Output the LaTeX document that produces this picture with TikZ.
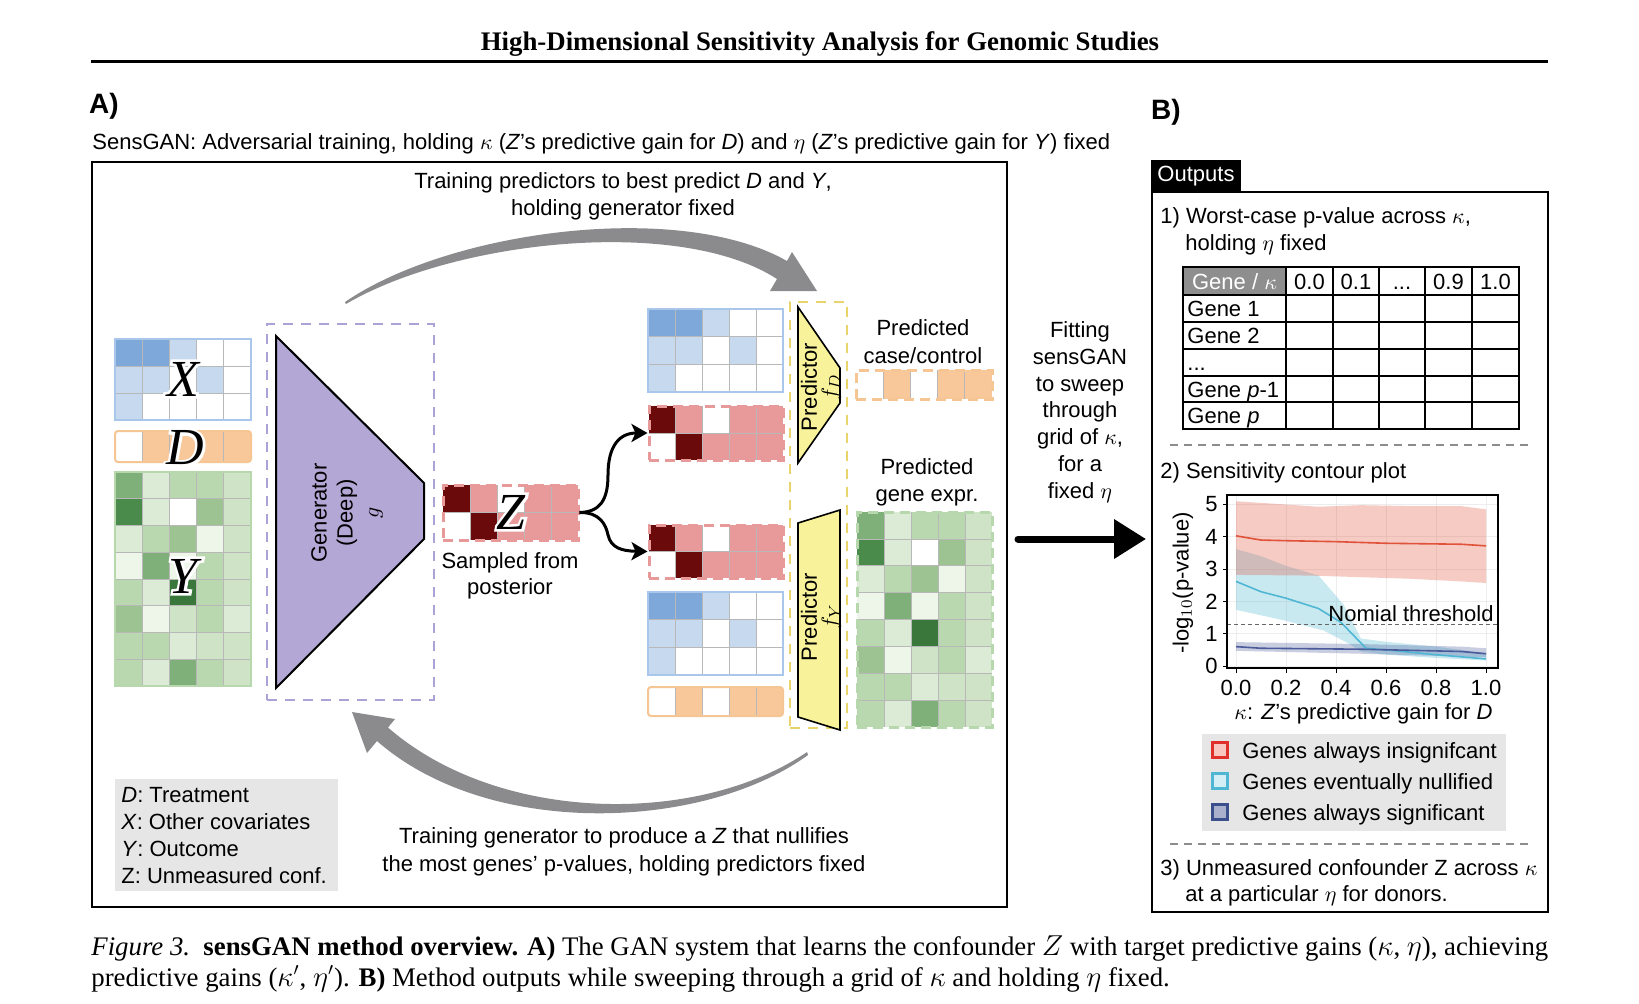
\documentclass[tikz,border=0pt]{standalone}
\usepackage{fontspec}
\setmainfont{Liberation Sans}
\newfontfamily\timesf{Liberation Serif}
\usetikzlibrary{arrows.meta,fit}

\definecolor{bD}{HTML}{7EA7DA}
\definecolor{bL}{HTML}{C6D9EF}
\definecolor{bB}{HTML}{A9C7EA}
\definecolor{oO}{HTML}{F8C89A}
\definecolor{oB}{HTML}{F6C594}
\definecolor{rD}{HTML}{6B0A0A}
\definecolor{rP}{HTML}{E89A9B}
\definecolor{gA}{HTML}{EEF6EA}
\definecolor{gB}{HTML}{DCEBD6}
\definecolor{gC}{HTML}{CFE4C7}
\definecolor{gE}{HTML}{B9D8AF}
\definecolor{gF}{HTML}{9CC391}
\definecolor{gG}{HTML}{7FB07A}
\definecolor{gH}{HTML}{4A8A4A}
\definecolor{gI}{HTML}{3A773A}
\definecolor{gBd}{HTML}{B7D7AC}
\definecolor{lav}{HTML}{B3A7D6}
\definecolor{lavD}{HTML}{ABA3D8}
\definecolor{yel}{HTML}{F8F39A}
\definecolor{yelD}{HTML}{E8D46A}
\definecolor{arrG}{HTML}{8B8B8E}
\definecolor{tabG}{HTML}{8E8E8E}
\definecolor{legG}{HTML}{E6E6E6}
\definecolor{pRed}{HTML}{E0533A}
\definecolor{pCy}{HTML}{4FB7D3}
\definecolor{pNv}{HTML}{4A5A9A}
\definecolor{sqR}{HTML}{E0302A}
\definecolor{sqRf}{HTML}{F8C8C0}
\definecolor{sqC}{HTML}{4FB7D3}
\definecolor{sqCf}{HTML}{D5EEF6}
\definecolor{sqN}{HTML}{3B4F8C}
\definecolor{sqNf}{HTML}{A9B0CE}

% #1 x0, #2 y0, #3 cell w, #4 cell h, #5 rows, #6 colours (5 per row)
\newcommand\heatmap[6]{%
  \foreach \cc [count=\k from 0] in {#6}{%
    \pgfmathtruncatemacro\hmc{mod(\k,5)}%
    \pgfmathtruncatemacro\hmr{div(\k,5)}%
    \fill[\cc] ({#1+\hmc*#3},{#2+\hmr*#4}) rectangle ++(#3,#4);}%
  \foreach \i in {1,...,4}{\draw[gridln] ({#1+\i*#3},#2) -- ++(0,{#5*#4});}%
  \ifnum#5>1 \foreach \j in {2,...,#5}{\draw[gridln] (#1,{#2+(\j-1)*#4}) -- ++({5*#3},0);}\fi
}
% outlined big letter: #1 name, #2 position, #3 letter
\newcommand\outl[3]{%
  \node[bigl] (#1) at (#2) {\rlap{\textcolor{white}{\addfontfeature{FakeBold=10}#3}}#3};
}

\begin{document}
\begin{tikzpicture}[x=0.5pt,y=-0.5pt,
  txt/.style={font=\fontsize{11}{13.5}\selectfont, inner sep=0pt},
  gridln/.style={black!28, line width=0.35pt},
  bigl/.style={font=\timesf\itshape\fontsize{26}{26}\selectfont, inner sep=0pt},
  boxfit/.style={inner sep=0pt},
  dashb/.style={dash pattern=on 5pt off 3pt},
  brarrow/.style={line width=1.5pt, -{Stealth[length=8pt,width=9pt,inset=2pt]}},
  grayarr/.style={fill=arrG},
  predshape/.style={fill=yel, draw=black, line width=0.8pt},
]
\useasboundingbox (0,0) rectangle (1639,1003);
\fill[white] (0,0) rectangle (1639,1003);

% ---------- title ----------
\node[anchor=base, inner sep=0pt, font=\timesf\bfseries\fontsize{13.4}{15}\selectfont] (title) at (820,50) {High-Dimensional Sensitivity Analysis for Genomic Studies};
\draw[line width=1.5pt] (91,61) -- (1548,61);

\node[txt, font=\bfseries\fontsize{14}{16}\selectfont] (labA) at (104,106) {A)};
\node[txt, font=\bfseries\fontsize{14}{16}\selectfont] (labB) at (1166,112) {B)};
\node[txt, anchor=base west] (sub) at (92,149) {SensGAN: Adversarial training, holding $\kappa$ (\textit{Z}'s predictive gain for \textit{D}) and $\eta$ (\textit{Z}'s predictive gain for \textit{Y}) fixed};

% ---------- panel A ----------
\node[boxfit, fit={(92,162) (1007,907)}, draw, line width=1pt] (panelA) {};
\node[txt, align=center] (toptxt) at (623,196) {Training predictors to best predict \textit{D} and \textit{Y},\\holding generator fixed};

% gray curved arrows
\fill[grayarr] (345,302) .. controls (450,230) and (680,200) .. (787,261) -- (792,252) -- (817,291) -- (770,291) -- (777,279) .. controls (680,216) and (455,240) .. (346,304) -- cycle;
\fill[grayarr] (807,752) .. controls (700,825) and (500,825) .. (388,727.5) -- (395,719) -- (352,712) -- (367,753) -- (377,741) .. controls (490,840) and (705,830) .. (808,755) -- cycle;

% X, D, Y inputs
\heatmap{115}{339}{27.2}{27}{3}{bD,bD,bL,white,white,bL,bL,white,bL,white,bL,white,white,white,white}
\node[boxfit, fit={(115,339) (251,420)}, draw=bB, line width=1pt] (Xm) {};
\outl{Xl}{183,379}{X}
\heatmap{115}{431}{27.2}{31}{1}{white,oO,oO,oO,oO}
\node[boxfit, fit={(115,431) (251,462)}, draw=oB, line width=1pt, rounded corners=1.5pt] (Dm) {};
\outl{Dl}{185,448}{D}
\heatmap{115}{472}{27.2}{26.75}{8}{gG,gB,gE,gE,gC,gH,gB,white,gF,gC,gB,gE,gF,gA,gC,gA,gG,gA,gE,gC,gE,gB,gI,gE,gC,gF,gA,gC,gE,gB,gE,gE,gB,gC,gC,gE,gB,gG,gE,gC}
\node[boxfit, fit={(115,472) (251,686)}, draw=gBd, line width=1pt] (Ym) {};
\outl{Yl}{183,576}{Y}

% generator
\node[boxfit, fit={(267,324) (434,700)}, draw=lavD, line width=1pt, dash pattern=on 5pt off 4pt] (genbox) {};
\filldraw[fill=lav, draw=black, line width=1pt] (276,336) -- (424,483) -- (424,539) -- (276,688) -- cycle;
\node[txt, rotate=90, align=center, font=\fontsize{11}{13}\selectfont] (gen) at (347,513) {Generator\\(Deep)\\$g$};

% Z sampled
\heatmap{443}{485}{27}{27.5}{2}{rD,rP,white,rP,rP,white,rD,rP,rP,rP}
\node[boxfit, fit={(443,485) (578,540)}, draw=rP, line width=1.5pt, dashb] (Zm) {};
\outl{Zl}{511,512}{Z}
\node[txt, align=center, font=\fontsize{11}{13}\selectfont] (samp) at (510,576) {Sampled from\\posterior};

% right column
\heatmap{648}{309}{27}{27.7}{3}{bD,bD,bL,white,white,bL,bL,white,bL,white,bL,white,white,white,white}
\node[boxfit, fit={(648,309) (783,392)}, draw=bB, line width=1pt] (B1m) {};
\heatmap{649}{406}{26.8}{27}{2}{rD,rP,white,rP,rP,white,rD,rP,rP,rP}
\node[boxfit, fit={(649,406) (783,460)}, draw=rP, line width=1.5pt, dashb] (Z1m) {};
\heatmap{649}{525}{26.8}{26.5}{2}{rD,rP,white,rP,rP,white,rD,rP,rP,rP}
\node[boxfit, fit={(649,525) (783,578)}, draw=rP, line width=1.5pt, dashb] (Z2m) {};
\heatmap{648}{592}{27}{27.7}{3}{bD,bD,bL,white,white,bL,bL,white,bL,white,bL,white,white,white,white}
\node[boxfit, fit={(648,592) (783,675)}, draw=bB, line width=1pt] (B2m) {};
\heatmap{648}{687}{27}{29}{1}{white,oO,white,oO,oO}
\node[boxfit, fit={(648,687) (783,716)}, draw=oB, line width=1pt, rounded corners=1.5pt] (O2m) {};

% branch arrows
\draw[brarrow] (Zm.east) .. controls (600,512) and (608,500) .. (608,475) .. controls (608,445) and (620,433) .. (Z1m.west);
\draw[brarrow] (Zm.east) .. controls (600,512) and (606,525) .. (608,535) .. controls (611,548) and (622,551) .. (Z2m.west);

% predictors
\node[boxfit, fit={(790,302) (847,728)}, draw=yelD, line width=1pt, dash pattern=on 5pt off 4pt] (predbox) {};
\filldraw[predshape] (798,307) -- (840,368) -- (840,403) -- (798,463) -- cycle;
\filldraw[predshape] (798,523) -- (840,510) -- (840,730) -- (798,717) -- cycle;
\node[txt, rotate=90, align=center, font=\fontsize{11}{10}\selectfont] (fD) at (821,387) {Predictor\\$f_D$};
\node[txt, rotate=90, align=center, font=\fontsize{11}{10}\selectfont] (fY) at (821,617) {Predictor\\$f_Y$};

% predicted outputs
\node[txt, align=center, font=\fontsize{11}{14}\selectfont] (pcc) at (923,342) {Predicted\\case/control};
\heatmap{856}{370}{27.2}{29}{1}{white,oO,white,oO,oO}
\node[boxfit, fit={(856,370) (992,399)}, draw=oB, line width=1.5pt, dashb] (OPm) {};
\node[txt, align=center, font=\fontsize{11}{13.5}\selectfont] (pge) at (927,482) {Predicted\\gene expr.};
\heatmap{857}{512}{27}{26.9}{8}{gG,gB,gE,gE,gC,gH,gB,white,gF,gC,gB,gE,gF,gA,gC,gA,gG,gA,gE,gC,gE,gB,gI,gE,gC,gF,gA,gC,gE,gB,gE,gE,gB,gC,gC,gE,gB,gG,gE,gC}
\node[boxfit, fit={(857,512) (992,727)}, draw=gBd, line width=1.5pt, dashb] (GPm) {};

% legend A
\node[boxfit, fit={(115,779) (338,891)}, fill=legG] (legA) {};
\node[txt, align=left, anchor=west, font=\fontsize{11}{13.5}\selectfont] (legAt) at (121,836) {\textit{D}: Treatment\\\textit{X}: Other covariates\\\textit{Y}: Outcome\\Z: Unmeasured conf.};

\node[txt, align=center, font=\fontsize{11}{14}\selectfont] (bottxt) at (624,852) {Training generator to produce a \textit{Z} that nullifies\\the most genes' p-values, holding predictors fixed};

% ---------- middle ----------
\node[txt, align=center, font=\fontsize{11}{13.4}\selectfont] (fittxt) at (1080,412) {Fitting\\sensGAN\\to sweep\\through\\grid of $\kappa$,\\for a\\fixed $\eta$};
\coordinate (fitS) at (1018,539);
\coordinate (fitE) at (1146,539);
\draw[line width=3.5pt, line cap=round, -{Triangle[length=16pt,width=19pt]}] (fitS) -- (fitE);

% ---------- panel B ----------
\node[boxfit, fit={(1152,192) (1548,912)}, draw, line width=1pt] (outbox) {};
\node[boxfit, fit={(1151,160) (1241,192)}, fill=black] (tab) {};
\node[txt, text=white] (tabt) at (tab.center) {Outputs};

\node[txt, anchor=base west] (o1a) at (1160,223) {1) Worst-case p-value across $\kappa$,};
\node[txt, anchor=base west] (o1b) at (1185,250) {holding $\eta$ fixed};

% table
\fill[tabG] (1183,267) rectangle (1286,295);
\foreach \x in {1286,1333,1379,1425,1472} \draw[line width=0.6pt] (\x,267) -- (\x,429);
\foreach \y in {295,322,349,376,402} \draw[line width=0.6pt] (1183,\y) -- (1519,\y);
\draw[line width=1.2pt] (1183,267) rectangle (1519,429);
\node[txt, text=white, anchor=base] (th0) at (1234.5,289) {Gene / $\kappa$};
\node[txt, anchor=base] (th1) at (1309.5,289) {0.0};
\node[txt, anchor=base] (th2) at (1356,289) {0.1};
\node[txt, anchor=base] (th3) at (1402,289) {...};
\node[txt, anchor=base] (th4) at (1448.5,289) {0.9};
\node[txt, anchor=base] (th5) at (1495.5,289) {1.0};
\node[txt, anchor=base west] (rl1) at (1187,316) {Gene 1};
\node[txt, anchor=base west] (rl2) at (1187,343) {Gene 2};
\node[txt, anchor=base west] (rl3) at (1187,370) {...};
\node[txt, anchor=base west] (rl4) at (1187,397) {Gene \textit{p}-1};
\node[txt, anchor=base west] (rl5) at (1187,423) {Gene \textit{p}};

\draw[black!45, line width=0.6pt, dash pattern=on 4pt off 3pt] (1170,445) -- (1532,445);
\node[txt, anchor=base west] (o2) at (1160,478) {2) Sensitivity contour plot};

% plot
\begin{scope}[shift={(1236,666)}, x=125pt, y=16.15pt]
  \foreach \v in {0,...,5} \draw[black!7, line width=0.4pt] (-0.036,\v) -- (1.048,\v);
  \foreach \k in {0,0.2,0.4,0.6,0.8,1.0} \draw[black!7, line width=0.4pt] (\k,-0.06) -- (\k,5.3);
  \fill[pCy, fill opacity=0.3] (0,3.62) -- (0.1,3.4) -- (0.2,3.1) -- (0.33,2.8) -- (0.43,1.9) -- (0.5,0.85) -- (0.6,0.75) -- (0.8,0.6) -- (1,0.4) -- (1,0.17) -- (0.8,0.25) -- (0.6,0.35) -- (0.5,0.45) -- (0.45,0.7) -- (0.35,1.1) -- (0.2,1.4) -- (0,1.74) -- cycle;
  \fill[pRed, fill opacity=0.3] (0,5.1) -- (0.2,5.0) -- (0.33,4.93) -- (0.5,4.98) -- (0.7,4.95) -- (0.9,4.95) -- (1,4.85) -- (1,2.57) -- (0.9,2.62) -- (0.7,2.7) -- (0.5,2.75) -- (0.3,2.8) -- (0,2.82) -- cycle;
  \fill[pNv, fill opacity=0.3] (0,0.74) -- (0.5,0.68) -- (0.9,0.6) -- (1,0.55) -- (1,0.27) -- (0.5,0.38) -- (0,0.47) -- cycle;
  \draw[pRed, line width=0.8pt] (0,4.03) -- (0.1,3.9) -- (0.2,3.88) -- (0.4,3.85) -- (0.6,3.8) -- (0.8,3.78) -- (0.9,3.77) -- (1,3.72);
  \draw[pCy, line width=0.8pt] (0,2.62) -- (0.1,2.3) -- (0.2,2.1) -- (0.33,1.78) -- (0.42,1.35) -- (0.52,0.55) -- (0.6,0.5) -- (0.8,0.35) -- (1,0.22);
  \draw[pNv, line width=0.8pt] (0,0.6) -- (0.1,0.55) -- (0.5,0.52) -- (0.9,0.45) -- (1,0.38);
  \draw[black!60, line width=0.5pt, dash pattern=on 2pt off 1.5pt] (-0.036,1.3) -- (1.048,1.3);
  \node[txt, anchor=base] (thr) at (0.7,1.38) {Nomial threshold};
  \draw[line width=0.8pt] (-0.036,-0.06) rectangle (1.048,5.3);
  \foreach \v in {0,...,5} {
    \draw[line width=0.5pt] (-0.036,\v) -- ++(-0.016,0);
    \node[txt, anchor=east] (yt\v) at (-0.072,\v) {\v};
  }
  \foreach \k/\l [count=\i] in {0/0.0,0.2/0.2,0.4/0.4,0.6/0.6,0.8/0.8,1.0/1.0} {
    \draw[line width=0.5pt] (\k,-0.06) -- ++(0,-0.15);
    \node[txt, anchor=base] (xt\i) at (\k,-0.9) {\l};
  }
  \node[txt, rotate=90] (ylab) at (-0.212,2.57) {-log$_{10}$(p-value)};
  \node[txt, anchor=base] (xlab) at (0.51,-1.67) {$\kappa$: \textit{Z}'s predictive gain for \textit{D}};
\end{scope}

% plot legend
\node[boxfit, fit={(1202,734) (1506,831)}, fill=legG] (legB) {};
\node[draw=sqR, fill=sqRf, line width=1.2pt, minimum size=7.5pt, inner sep=0pt] (sq1) at (1220,750) {};
\node[draw=sqC, fill=sqCf, line width=1.2pt, minimum size=7.5pt, inner sep=0pt] (sq2) at (1220,781) {};
\node[draw=sqN, fill=sqNf, line width=1.2pt, minimum size=7.5pt, inner sep=0pt] (sq3) at (1220,812) {};
\node[txt, anchor=base west] (lg1) at (1242,758) {Genes always insignifcant};
\node[txt, anchor=base west] (lg2) at (1242,789) {Genes eventually nullified};
\node[txt, anchor=base west] (lg3) at (1242,820) {Genes always significant};

\draw[black!45, line width=0.6pt, dash pattern=on 4pt off 3pt] (1170,844) -- (1532,844);
\node[txt, anchor=base west] (o3a) at (1160,875) {3) Unmeasured confounder Z across $\kappa$};
\node[txt, anchor=base west] (o3b) at (1185,901) {at a particular $\eta$ for donors.};

% ---------- caption ----------
\node[anchor=base west, inner sep=0pt, text width=728.5pt, align=justify, font=\timesf\fontsize{13.4}{15.6}\selectfont] (cap) at (91,955) {\noindent\textit{Figure 3.}\ \ \textbf{sensGAN method overview. A)} The GAN system that learns the confounder $Z$ with target predictive gains ($\kappa$, $\eta$), achieving\linebreak predictive gains ($\kappa'$, $\eta'$). \textbf{B)} Method outputs while sweeping through a grid of $\kappa$ and holding $\eta$ fixed.};
\end{tikzpicture}
\end{document}
